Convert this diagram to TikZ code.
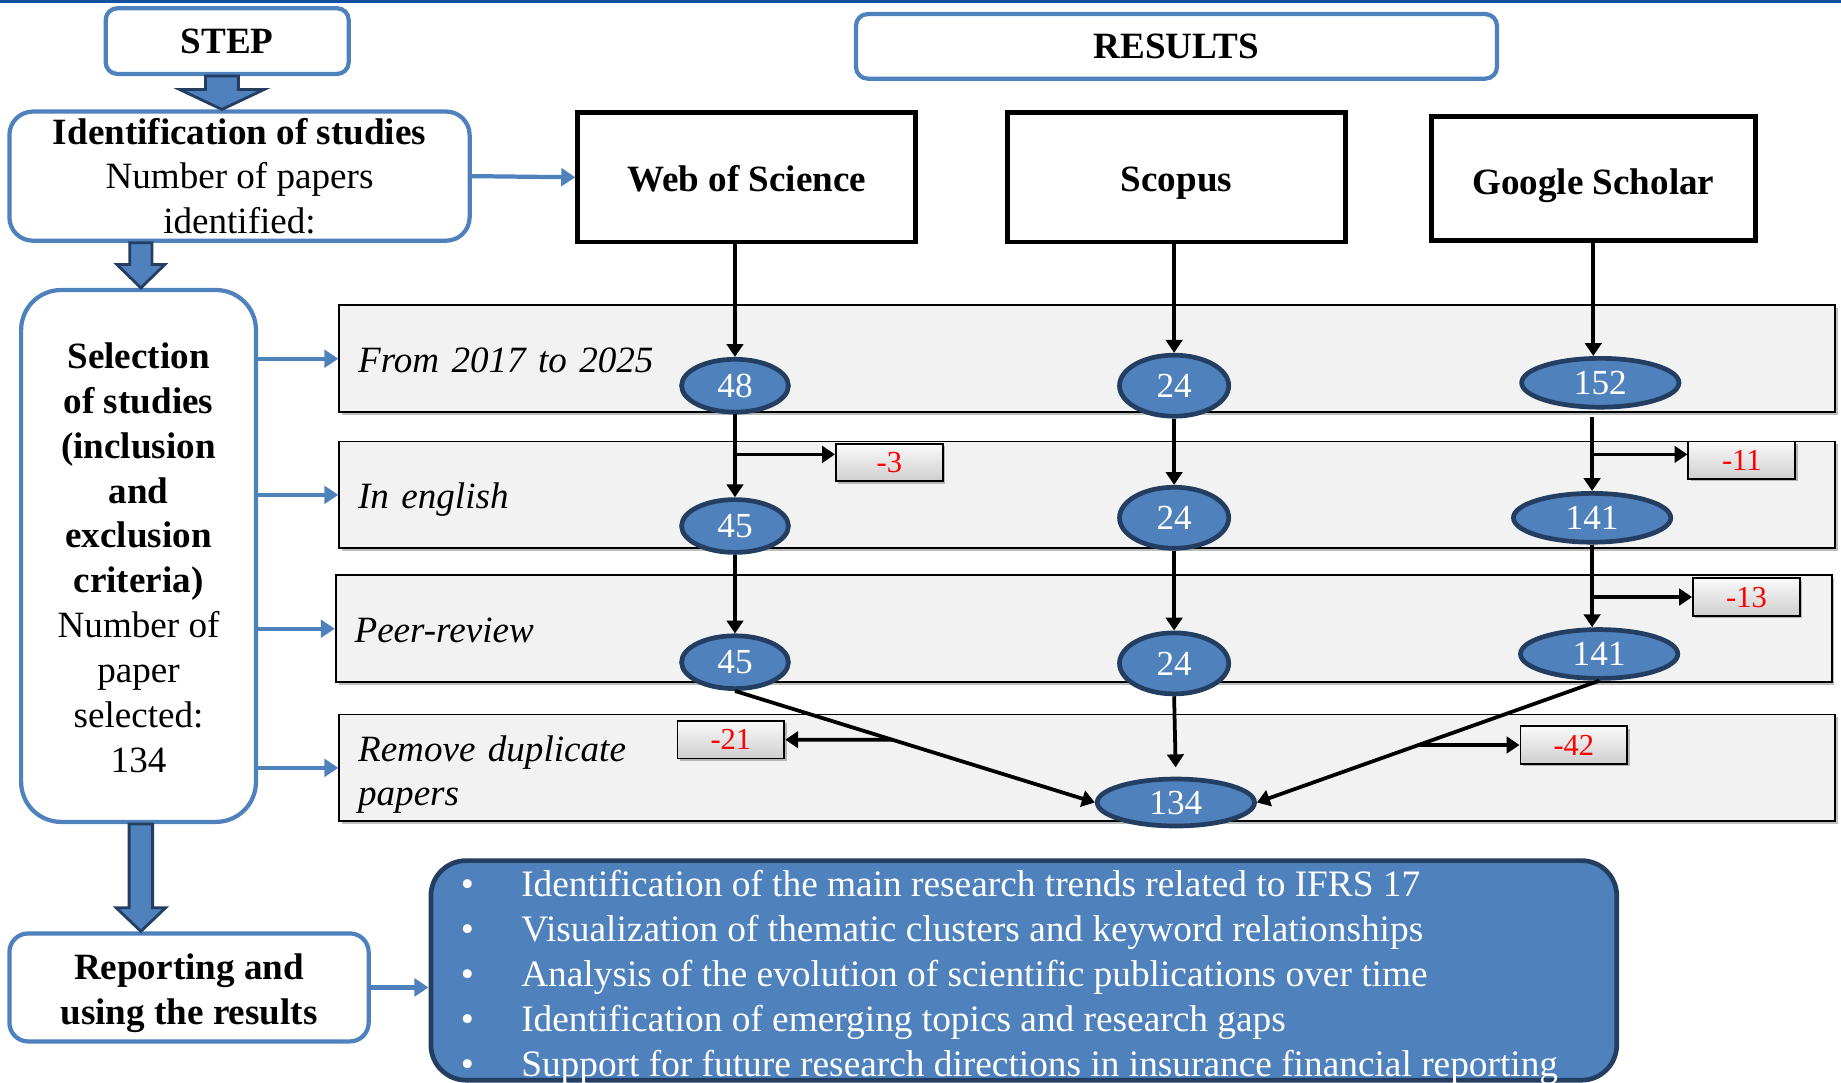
\documentclass[tikz,border=0pt]{standalone}
\usepackage{fontspec}
\setmainfont{Liberation Serif}
\usetikzlibrary{shapes.geometric,arrows.meta,calc,shadows}
\definecolor{mblue}{RGB}{79,129,189}
\definecolor{navy}{RGB}{36,62,98}
\definecolor{topline}{RGB}{20,80,160}
\definecolor{bandfill}{RGB}{242,242,242}
\newcommand\fsmain{\fontsize{15.8pt}{19.1pt}\selectfont}
\newcommand\fsbul{\fontsize{15.9pt}{19.15pt}\selectfont}
\newcommand\fsnum{\fontsize{15pt}{17pt}\selectfont}
\newcommand\fsred{\fontsize{13pt}{15pt}\selectfont}
\tikzset{
 rbox/.style={draw=mblue, line width=1.8pt, fill=white, align=center, inner sep=0pt, font=\fsmain},
 srcbox/.style={draw=black, line width=2pt, fill=white, inner sep=0pt, font=\fsmain\bfseries,
   minimum height=55pt, text height=14.5pt, text depth=2pt},
 band/.style={draw=black, line width=0.8pt, fill=bandfill, inner xsep=8pt, inner ysep=0pt,
   minimum height=45.5pt, text width=621pt, align=left, font=\fsmain\itshape,
   drop shadow={shadow xshift=1.2pt,shadow yshift=-1.2pt,opacity=0.25,fill=black}},
 oneline/.style={text height=14pt, text depth=2pt},
 ell/.style={ellipse, draw=navy, line width=2pt, fill=mblue, text=white, inner sep=0pt, font=\fsnum},
 wsell/.style={ell, minimum width=45.5pt, minimum height=22.5pt},
 scell/.style={ell, minimum width=46.5pt, minimum height=26pt},
 gsell/.style={ell, minimum width=67pt, minimum height=20.8pt},
 redbox/.style={draw=black, line width=0.8pt, top color=gray!4, bottom color=gray!38, text=red,
   minimum width=45.5pt, minimum height=16pt, inner sep=0pt, font=\fsred,
   drop shadow={shadow xshift=1pt,shadow yshift=-1pt,opacity=0.25,fill=black}},
 blk/.style={draw=black, line width=1.6pt, -{Triangle[width=7pt,length=5.5pt]}},
 barr/.style={draw=mblue, line width=1.8pt, -{Triangle[width=7.5pt,length=6pt]}},
 blockarrow/.style={fill=mblue, draw=navy, line width=1.2pt, line join=miter},
 bulbox/.style={draw=navy, line width=2pt, fill=mblue, rounded corners=15pt, text=white,
   font=\fsbul, inner xsep=6pt, inner ysep=0pt,
   minimum width=505pt, minimum height=93.5pt}
}
\newcommand\blockarr[5]{\filldraw[blockarrow] let \p1=#1, \p2=#2 in
 (\x1-#3,\y1) -- (\x1-#3,\y2+#5) -- (\x1-#4,\y2+#5) -- (\x1,\y2) -- (\x1+#4,\y2+#5) -- (\x1+#3,\y2+#5) -- (\x1+#3,\y1) -- cycle;}
\newcommand\bul{\makebox[19pt][c]{•}\hspace{13.5pt}}
\newcommand\lines[2][c]{\begin{tabular}{@{}#1@{}}#2\end{tabular}}
\newcommand\shiftdown[2]{\raisebox{-#1}[\height][\depth]{#2}}
\begin{document}
\begin{tikzpicture}[x=0.5pt,y=-0.5pt]
\useasboundingbox (0,0) rectangle (1568,922);
\fill[topline] (0,0) rectangle (1568,2.5);

% left column
\node[rbox, rounded corners=5pt, minimum width=103.5pt, minimum height=28pt, font=\fsmain\bfseries] (step) at (193.5,35) {STEP};
\node[rbox, rounded corners=10pt, minimum width=196pt, minimum height=55pt] (ident) at (204,150)
  {\textbf{Identification of studies}\\Number of papers\\identified:};
\node[rbox, rounded corners=17pt, minimum width=100pt, minimum height=226.5pt] (sel) at (118,473.5)
  {\shiftdown{2.3pt}{\lines{\textbf{Selection}\\\textbf{of studies}\\\textbf{(inclusion}\\\textbf{and}\\\textbf{exclusion}\\\textbf{criteria)}\\Number of\\paper\\selected:\\134}}};
\node[rbox, rounded corners=8pt, minimum width=153pt, minimum height=46pt, font=\fsmain\bfseries] (rep) at (161,841)
  {\shiftdown{2.3pt}{\lines{Reporting and\\using the results}}};

% results header and sources
\node[rbox, rounded corners=5pt, minimum width=273pt, minimum height=27.5pt, font=\fsmain\bfseries] (res) at (1002,39.5) {RESULTS};
\node[srcbox, minimum width=144pt] (wos) at (636,151) {Web of Science};
\node[srcbox, minimum width=144pt] (scop) at (1002,151) {Scopus};
\node[srcbox, minimum width=138pt, minimum height=53pt, text height=15pt, text depth=1.5pt] (gs) at (1357,152) {Google Scholar};

% bands
\node[band, oneline] (b1) at (926,305.5) {From 2017 to 2025};
\node[band, oneline] (b2) at (926,421.5) {In english};
\node[band, oneline] (b3) at (923,535.5) {Peer-review};
\node[band] (b4) at (926,654) {\shiftdown{2.8pt}{\lines[l]{Remove duplicate\\papers}}};

% ellipses
\node[wsell] (w48) at (626,328.5) {48};
\node[wsell] (w45a) at (626,448) {45};
\node[wsell] (w45b) at (626,564) {45};
\node[scell] (s24a) at (1000,328.5) {24};
\node[scell] (s24b) at (1000,441) {24};
\node[scell] (s24c) at (1000,565) {24};
\node[gsell] (g152) at (1363,326) {152};
\node[gsell] (g141a) at (1356,441) {141};
\node[gsell] (g141b) at (1362,557) {141};
\node[gsell, minimum height=20pt] (f134) at (1001.5,683.5) {134};

% red boxes
\node[redbox] (m3) at (757.5,394) {-3};
\node[redbox] (m11) at (1483.5,392) {-11};
\node[redbox] (m13) at (1487.5,508.5) {-13};
\node[redbox] (m21) at (622.5,630) {-21};
\node[redbox] (m42) at (1340.5,634.5) {-42};

% bullets
\node[bulbox] (bul) at (872,826.5) {\shiftdown{3pt}{\parbox[c][90pt][c]{493pt}{\raggedright
\bul Identification of the main research trends related to IFRS 17\\
\bul Visualization of thematic clusters and keyword relationships\\
\bul Analysis of the evolution of scientific publications over time\\
\bul Identification of emerging topics and research gaps\\
\bul Support for future research directions in insurance financial reporting}}};

% block arrows
\blockarr{($(step.south)+(-4.5,0)$)}{($(step.south |- ident.north)+(-4.5,0)$)}{7pt}{18pt}{8.5pt}
\blockarr{($(sel.north |- ident.south)+(2,0)$)}{($(sel.north)+(2,0)$)}{4.75pt}{10.25pt}{10pt}
\blockarr{($(sel.south)+(2,0)$)}{($(sel.south |- rep.north)+(2,0)$)}{5pt}{10.5pt}{10pt}

% blue thin arrows
\draw[barr] (ident.east) -- (wos.west);
\draw[barr] (sel.east |- b1.west) -- (b1.west);
\draw[barr] (sel.east |- b2.west) -- (b2.west);
\draw[barr] (sel.east |- b3.west) -- (b3.west);
\draw[barr] (sel.east |- b4.west) -- (b4.west);
\draw[barr] (rep.east) -- (rep.east -| bul.west);

% Web of Science column
\draw[blk] (w48 |- wos.south) -- (w48.north);
\draw[blk] (w48.south) -- (w45a.north);
\coordinate (c3) at ($(m3.west)+(0,-7)$);
\draw[blk] (w48.south |- c3) -- (c3);
\draw[blk] (w45a.south) -- (w45b.north);
\coordinate (d1) at (w45b.south);
\coordinate (d2) at (f134.west);
\draw[blk] (d1) -- (d2);
\coordinate (h21a) at (m21.east);
\coordinate (h21b) at ($(m21.east)+(200,0)$);
\draw[blk] (intersection of d1--d2 and h21a--h21b) -- (h21a);

% Scopus column
\draw[blk] (s24a |- scop.south) -- (s24a.north);
\draw[blk] (s24a.south) -- (s24b.north);
\draw[blk] (s24b.south) -- (s24c.north);
\draw[blk, shorten >=4pt] (s24c.south) -- (f134.north);

% Google Scholar column
\draw[blk] (gs.south) -- (gs.south |- g152.north);
\draw[blk] ($(g141a |- g152.south)+(0,6)$) -- (g141a.north);
\coordinate (c11) at ($(m11.west)+(0,-5)$);
\draw[blk] (g141a |- c11) -- (c11);
\draw[blk] (g141a.south) -- (g141a.south |- g141b.north);
\draw[blk] (g141a.south |- m13.west) -- (m13.west);
\coordinate (e1) at (g141b.south);
\coordinate (e2) at (f134.east);
\draw[blk] (e1) -- (e2);
\coordinate (h42a) at (m42.west);
\coordinate (h42b) at ($(m42.west)+(-300,0)$);
\draw[blk] (intersection of e1--e2 and h42a--h42b) -- (h42a);
\end{tikzpicture}
\end{document}
